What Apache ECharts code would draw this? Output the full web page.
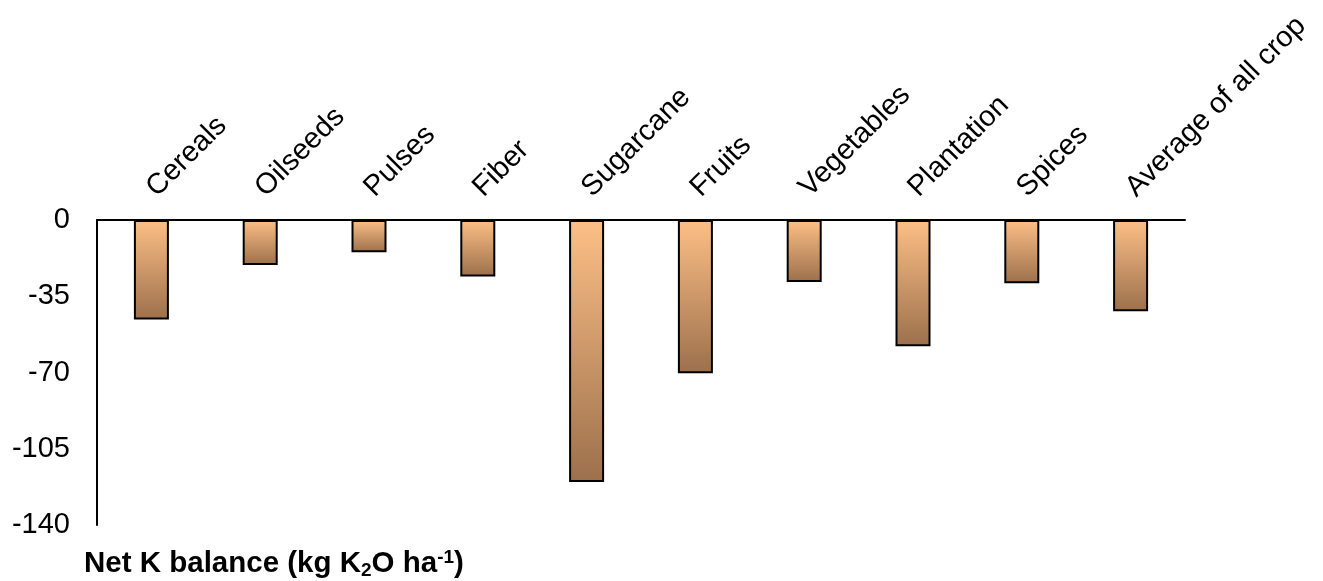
<!DOCTYPE html>
<html>
<head>
<meta charset="utf-8">
<script src="https://cdn.jsdelivr.net/npm/echarts@6/dist/echarts.min.js"></script>
<style>
  html, body { margin: 0; padding: 0; background: #ffffff; }
  #chart { width: 1323px; height: 581px; }
</style>
</head>
<body>
<div id="chart"></div>
<script>
// Crop groups along the top axis
const categories = ['Cereals', 'Oilseeds', 'Pulses', 'Fiber', 'Sugarcane', 'Fruits',
  'Vegetables', 'Plantation', 'Spices', 'Average of all crop'];

// Net K balance per crop group (kg K2O / ha)
const netKBalance = [-45.7, -20.6, -14.8, -25.9, -120.3, -70.4, -28.5, -58.0, -29.0, -41.9];

// Value axis ticks
const yTicks = [0, -35, -70, -105, -140];

const FONT = '"Liberation Sans", Arial, sans-serif';

const chart = echarts.init(document.getElementById('chart'), null, { renderer: 'canvas' });

chart.setOption({
  animation: false,
  backgroundColor: '#ffffff',
  grid: { left: 97, right: 138, top: 220, bottom: 56, containLabel: false },
  xAxis: {
    type: 'category',
    position: 'top',
    data: categories,
    axisLine: { show: true, lineStyle: { color: '#000000', width: 2 } },
    axisTick: { show: false },
    axisLabel: {
      rotate: 45,
      margin: 28,
      fontFamily: FONT,
      fontSize: 29,
      color: '#000000',
      interval: 0
    }
  },
  yAxis: {
    type: 'value',
    min: yTicks[yTicks.length - 1],
    max: yTicks[0],
    interval: 35,
    axisLine: { show: true, lineStyle: { color: '#000000', width: 2 } },
    axisTick: { show: false },
    splitLine: { show: false },
    axisLabel: {
      margin: 27,
      fontFamily: FONT,
      fontSize: 29,
      color: '#000000'
    }
  },
  series: [{
    type: 'bar',
    data: netKBalance,
    barWidth: 35,
    itemStyle: {
      color: new echarts.graphic.LinearGradient(0, 0, 0, 1, [
        { offset: 0, color: '#fdbf86' },
        { offset: 1, color: '#9c704c' }
      ]),
      borderColor: '#000000',
      borderWidth: 2
    }
  }],
  graphic: [{
    type: 'text',
    left: 84,
    top: 548,
    style: {
      text: '{b|Net K balance (kg K}{sub|2}{b|O ha}{sup|-1}{b|)}',
      rich: {
        b: { fontFamily: FONT, fontWeight: 'bold', fontSize: 29.5, color: '#000', lineHeight: 32, verticalAlign: 'middle' },
        sub: { fontFamily: FONT, fontWeight: 'bold', fontSize: 19, color: '#000', lineHeight: 32, verticalAlign: 'bottom' },
        sup: { fontFamily: FONT, fontWeight: 'bold', fontSize: 19, color: '#000', lineHeight: 32, verticalAlign: 'top' }
      }
    }
  }]
});
</script>
</body>
</html>
